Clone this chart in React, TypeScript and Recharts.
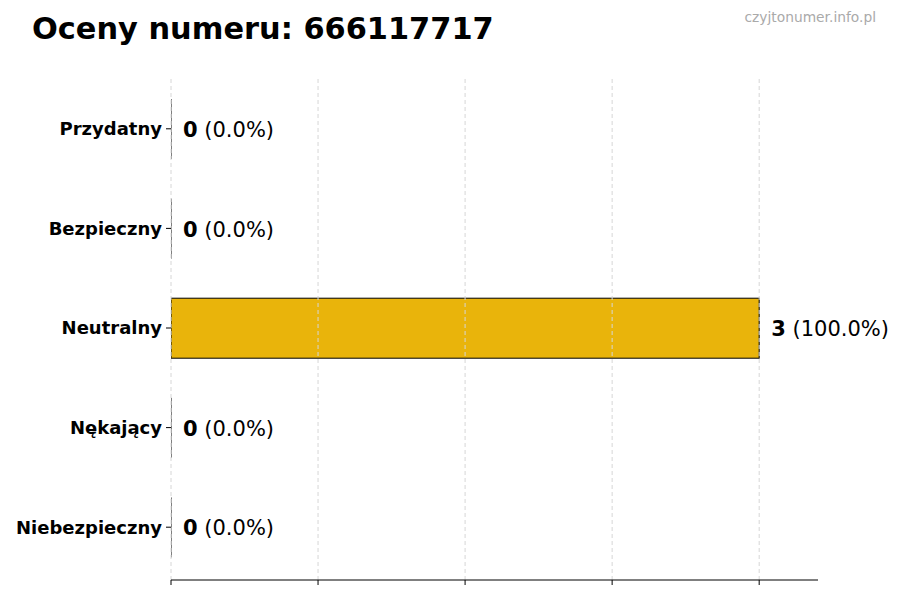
import { BarChart, Bar, XAxis, YAxis, LabelList, ReferenceLine } from 'recharts'

const categories = ['Przydatny', 'Bezpieczny', 'Neutralny', 'Nękający', 'Niebezpieczny']
const counts = [0, 0, 3, 0, 0]
const xTicks = [0, 0.75, 1.5, 2.25, 3]

const total = counts.reduce((a, b) => a + b, 0)
const data = categories.map((name, i) => ({
  name,
  value: counts[i],
  pct: total ? (counts[i] / total) * 100 : 0,
}))

const FONT = '"DejaVu Sans", sans-serif'

const BarShape = (props: any) => {
  const { x, y, width, height } = props
  if (!width) {
    return <line x1={x} x2={x} y1={y} y2={y + height} stroke="#000" strokeWidth={1} />
  }
  return <rect x={x} y={y} width={width} height={height} fill="#E9B40B" stroke="#000" strokeWidth={1} />
}

const ValueLabel = (props: any) => {
  const { x, y, width, height, index } = props
  const d = data[index]
  return (
    <text x={x + width + 12} y={y + height / 2 + 1} dominantBaseline="central" fontSize={21} fontFamily={FONT} fill="#000">
      <tspan fontWeight="bold">{d.value}</tspan>
      <tspan> ({d.pct.toFixed(1)}%)</tspan>
    </text>
  )
}

export default function App() {
  return (
    <div style={{ position: 'absolute', top: 0, left: 0, width: 900, height: 600, background: '#fff', fontFamily: FONT }}>
      <div style={{ position: 'absolute', left: 32, top: 11, fontSize: 30.4, fontWeight: 'bold', color: '#000' }}>
        Oceny numeru: 666117717
      </div>
      <div style={{ position: 'absolute', right: 24, top: 9, fontSize: 13.8, color: '#aaa' }}>czyjtonumer.info.pl</div>
      <BarChart
        width={900}
        height={600}
        data={data}
        layout="vertical"
        margin={{ top: 76, right: 82, bottom: 0, left: 0 }}
        barSize={60}
      >
        {xTicks.map((t) => (
          <ReferenceLine key={t} x={t} stroke="#d6d6d6" strokeDasharray="4 3" />
        ))}
        <XAxis
          type="number"
          domain={[0, 3.3]}
          ticks={xTicks}
          tickFormatter={() => ''}
          axisLine={{ stroke: '#000' }}
          tickLine={{ stroke: '#000' }}
          tickSize={5}
          height={20}
          allowDataOverflow
        />
        <YAxis
          type="category"
          dataKey="name"
          width={171}
          axisLine={false}
          tickLine={{ stroke: '#000' }}
          tickSize={5}
          tickMargin={4}
          padding={{ top: 3, bottom: 3 }}
          tick={{ fill: '#000', fontSize: 18, fontWeight: 'bold', fontFamily: FONT }}
        />
        <Bar dataKey="value" shape={BarShape} isAnimationActive={false}>
          <LabelList dataKey="value" content={ValueLabel} />
        </Bar>
      </BarChart>
    </div>
  )
}
